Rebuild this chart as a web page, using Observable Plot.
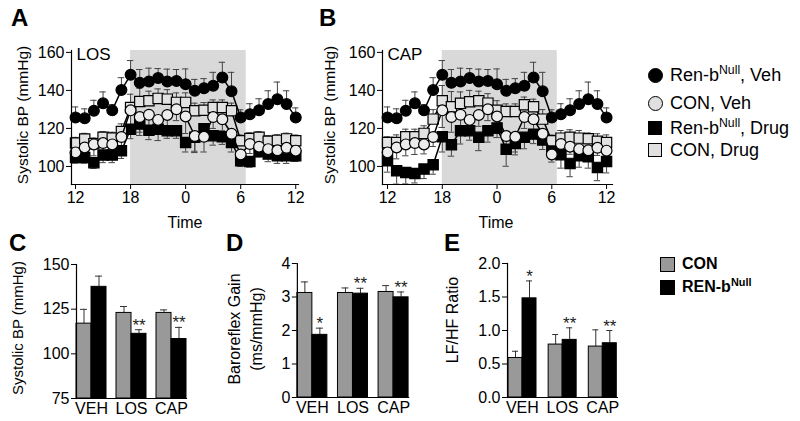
<!DOCTYPE html>
<html><head><meta charset="utf-8">
<script src="https://cdn.jsdelivr.net/npm/d3@7"></script>
<script src="https://cdn.jsdelivr.net/npm/@observablehq/plot@0.6"></script>
<style>
body{margin:0;background:#fff;}
#root{position:relative;width:800px;height:421px;overflow:hidden;background:#fff;font-family:"Liberation Sans",Arial,Helvetica,sans-serif;color:#000;}
.abs{position:absolute;line-height:1;white-space:nowrap;}
.letter{font-weight:bold;font-size:24px;}
.ytitle{transform:translate(-50%,-50%) rotate(-90deg);font-size:15.5px;text-align:center;}
.time{font-size:16px;transform:translateX(-50%);}
.leg{font-size:18px;}
.leg sup,.leg2 sup{font-size:0.68em;vertical-align:0.55em;line-height:0;}
.leg2{font-size:16px;font-weight:bold;}
.mk{position:absolute;box-sizing:border-box;border:1.2px solid #000;}
.plot{position:absolute;}
.plot svg{overflow:visible;}
</style></head>
<body><div id="root"></div>
<script>
// ---------- data ----------
const hours = [12,13,14,15,16,17,18,19,20,21,22,23,24,25,26,27,28,29,30,31,32,33,34,35,36];
const xTickValues = [12,18,24,30,36];
const xTickLabels = ["12","18","0","6","12"];
const yTickValuesBP = [100,120,140,160];
const darkPhase = [{start:18, end:30.6}];

const renVeh    = [125.8,125.3,129.3,133.2,129.5,140.2,148.2,144.0,144.7,146.5,144.7,145.0,143.3,139.8,141.2,142.5,146.8,139.5,125.8,127.5,129.6,132.8,135.4,132.8,125.8];
const renVehErr = [5.5,5,5.5,6,3,6.5,7.5,7,7,5,6.5,6,8,6,5,7,8,10,4,5.5,6,7,9,7,5];
const conVeh    = [107.4,110.0,111.6,112.3,111.6,115.5,129.5,126.0,127.2,124.5,127.1,130.1,126.3,116.0,115.6,126.0,124.8,117.2,106.3,111.8,110.4,109.1,108.5,109.8,108.3];
const conVehErr = [4,6,6,6,5,5,9,8,6,5,6,6,9,8,8,6,6,5,4,5,4,4,4,4,4];

const renLos    = [104.7,104.7,102.0,106.0,106.0,108.2,119.6,122.3,119.1,119.6,118.8,118.8,112.6,115.3,119.8,116.2,115.6,112.6,103.0,102.6,107.9,106.5,105.6,105.6,105.6];
const renLosErr = [3,3,3,4,4,4,5,6,5,6,4,4,5,8,6,5,4,5,3,3,3,4,4,4,3];
const conLos    = [112.3,114.4,112.0,115.3,115.0,118.4,131.0,134.2,134.6,135.8,135.4,133.7,133.7,129.3,129.6,131.0,131.0,129.3,113.5,114.7,115.3,113.2,113.7,114.5,113.5];
const conLosErr = [3,3,3,3,3,4,7,7,5,5,5,5,5,4,4,4,4,4,3,3,3,3,3,3,3];

const renCap    = [103.0,97.7,96.8,96.3,98.6,100.9,115.6,111.4,118.8,118.8,115.3,118.8,120.2,109.1,112.1,115.3,117.0,113.9,110.0,106.1,101.6,105.6,105.1,99.5,102.6];
const renCapErr = [6,7,6,5,5,5,8,6,7,5,7,6,5,9,6,6,5,5,6,7,7,6,6,7,6];
const conCap    = [112.6,112.6,115.6,115.6,117.4,124.9,134.6,131.4,133.2,134.0,134.6,133.3,129.6,128.9,128.9,132.5,131.4,124.9,113.5,114.9,115.3,114.9,114.6,113.2,112.6];
const conCapErr = [3,4,4,4,4,5,8,8,6,6,5,5,5,4,4,4,4,5,3,4,4,4,3,4,4];

const groups = ["VEH","LOS","CAP"];
const seriesNames = ["CON","REN-bNull"];
const sbpCon = [116.9,122.9,122.9], sbpConErr = [8.0,3.6,1.7];
const sbpRen = [137.5,111.2,108.3], sbpRenErr = [6.0,2.3,6.5];
const sbpStars = ["","**","**"];
const brsCon = [3.12,3.12,3.15], brsConErr = [0.33,0.15,0.19];
const brsRen = [1.87,3.10,2.99], brsRenErr = [0.20,0.16,0.16];
const brsStars = ["*","**","**"];
const lfhfCon = [0.59,0.79,0.76], lfhfConErr = [0.10,0.15,0.25];
const lfhfRen = [1.48,0.86,0.81], lfhfRenErr = [0.26,0.18,0.19];
const lfhfStars = ["*","**","**"];

// ---------- helpers ----------
const FONT = '"Liberation Sans", Arial, Helvetica, sans-serif';
const root = document.getElementById("root");
function place(el, left, top){ const d=document.createElement("div"); d.className="plot"; d.style.left=left+"px"; d.style.top=top+"px"; d.appendChild(el); root.appendChild(d); }
function html(cls, left, top, inner, extra){ const d=document.createElement("div"); d.className="abs "+cls; d.style.left=left+"px"; d.style.top=top+"px"; d.innerHTML=inner; if(extra) Object.assign(d.style, extra); root.appendChild(d); return d; }

const tsRows = (vals, errs, dir) => hours.map((h,i)=>({hour:h, value:vals[i], err:errs[i], dir}));

function tsPanel({renDrug, renDrugErr, conDrug, conDrugErr, label, width, height, ml, mr, xDomain}) {
  const S = [
    {rows: tsRows(renDrug, renDrugErr, -1), symbol:"square", fill:"#000", r:5.8},
    {rows: tsRows(conDrug, conDrugErr, 1), symbol:"square", fill:"#e2e2e2", r:5.8},
    {rows: tsRows(conVeh, conVehErr, -1), symbol:"circle", fill:"#ececec", r:5.4},
    {rows: tsRows(renVeh, renVehErr, 1), symbol:"circle", fill:"#000", r:5.4}
  ];
  const marks = [Plot.rect(darkPhase, {x1:"start", x2:"end", fill:"#d9d9d9"})];
  for (const s of S) {
    marks.push(Plot.ruleX(s.rows, {x:"hour", y1:"value", y2:d=>d.value+d.dir*d.err, stroke:"#444", strokeWidth:1}));
    marks.push(Plot.ruleY(s.rows, {y:d=>d.value+d.dir*d.err, x1:d=>d.hour-0.35, x2:d=>d.hour+0.35, stroke:"#444", strokeWidth:1}));
  }
  for (const s of S) {
    marks.push(Plot.line(s.rows, {x:"hour", y:"value", stroke:"#000", strokeWidth:1.5}));
    marks.push(Plot.dot(s.rows, {x:"hour", y:"value", symbol:s.symbol, r:s.r, fill:s.fill, stroke:"#000", strokeWidth:1.2}));
  }
  marks.push(Plot.text([label], {text:d=>d, frameAnchor:"top-left", dx:5, dy:-3, lineAnchor:"top", fontSize:17, textAnchor:"start"}));
  marks.push(Plot.axisY({ticks:yTickValuesBP, tickSize:5, tickPadding:2, label:null, fontSize:16}));
  marks.push(Plot.axisX({ticks:xTickValues, tickFormat:(d)=>xTickLabels[xTickValues.indexOf(d)], tickSize:5, tickPadding:2, label:null, fontSize:16}));
  marks.push(Plot.frame({anchor:"left", stroke:"#000", strokeWidth:1.2}));
  marks.push(Plot.frame({anchor:"bottom", stroke:"#000", strokeWidth:1.2}));
  return Plot.plot({
    width, height, marginLeft:ml, marginRight:mr, marginTop:50, marginBottom:height-184,
    style:{fontFamily:FONT, fontSize:"16px", color:"#000", background:"transparent"},
    x:{domain:xDomain}, y:{domain:[90.5,161]},
    marks
  });
}

function barRows(conV, conE, renV, renE, stars){
  const out=[];
  groups.forEach((g,i)=>{
    out.push({group:g, series:seriesNames[0], value:conV[i], err:conE[i], star:""});
    out.push({group:g, series:seriesNames[1], value:renV[i], err:renE[i], star:stars[i]});
  });
  return out;
}

function barPanel({data, yDomain, yTicks, tickFormat, width, height, ml, mr, mt, mb, pi, po, align}) {
  return Plot.plot({
    width, height, marginLeft:ml, marginRight:mr, marginTop:mt, marginBottom:mb,
    facet:{marginTop:0, marginBottom:0, marginLeft:0, marginRight:0},
    style:{fontFamily:FONT, fontSize:"16px", color:"#000", background:"transparent"},
    x:{domain:seriesNames, padding:0, axis:null},
    fx:{domain:groups, paddingInner:pi, paddingOuter:po, align, round:false, label:null, axis:null},
    y:{domain:yDomain},
    color:{domain:seriesNames, range:["#999999","#000000"]},
    marks:[
      Plot.ruleX(data, {fx:"group", x:"series", y1:"value", y2:d=>d.value+d.err, stroke:"#333", strokeWidth:1}),
      Plot.tickY(data, {fx:"group", x:"series", y:d=>d.value+d.err, insetLeft:4, insetRight:4, stroke:"#333", strokeWidth:1}),
      Plot.barY(data, {fx:"group", x:"series", y1:yDomain[0], y2:"value", fill:"series", stroke:"#000", strokeWidth:1}),
      Plot.text(data, {fx:"group", x:"series", y:d=>d.value+d.err, text:"star", lineAnchor:"bottom", dy:1, fontSize:17, fill:"#222"}),
      Plot.axisY({ticks:yTicks, tickFormat, tickSize:5, tickPadding:2, label:null, fontSize:16}),
      Plot.axisFx({anchor:"bottom", tickSize:0, tickPadding:4, label:null, fontSize:16}),
      Plot.frame({anchor:"left", facet:"super", stroke:"#000", strokeWidth:1.2}),
      Plot.frame({anchor:"bottom", facet:"super", stroke:"#000", strokeWidth:1.2})
    ]
  });
}

// ---------- panels A & B ----------
place(tsPanel({renDrug:renLos, renDrugErr:renLosErr, conDrug:conLos, conDrugErr:conLosErr, label:"LOS", width:310, height:215, ml:71, mr:12, xDomain:[11.56,36.3]}), 0, 0);
place(tsPanel({renDrug:renCap, renDrugErr:renCapErr, conDrug:conCap, conDrugErr:conCapErr, label:"CAP", width:310, height:215, ml:72, mr:8, xDomain:[11.45,36.65]}), 310, 0);

// ---------- panels C, D, E ----------
place(barPanel({data:barRows(sbpCon,sbpConErr,sbpRen,sbpRenErr,sbpStars), yDomain:[75,150], yTicks:[75,100,125,150], tickFormat:d3.format("d"), width:200, height:181, ml:70, mr:14, mt:24, mb:23, pi:0.25, po:0.075, align:1}), 0, 240);
place(barPanel({data:barRows(brsCon,brsConErr,brsRen,brsRenErr,brsStars), yDomain:[0,4], yTicks:[0,1,2,3,4], tickFormat:d3.format("d"), width:225, height:181, ml:92, mr:12, mt:23, mb:24, pi:0.26, po:0.12, align:0.5}), 200, 240);
place(barPanel({data:barRows(lfhfCon,lfhfConErr,lfhfRen,lfhfRenErr,lfhfStars), yDomain:[0,2], yTicks:[0,0.5,1,1.5,2], tickFormat:d3.format(".1f"), width:205, height:181, ml:83, mr:4, mt:23, mb:24, pi:0.26, po:0.10, align:0.5}), 420, 240);

// ---------- text overlays ----------
html("letter", 11, 6, "A");
html("letter", 319, 6, "B");
html("letter", 9, 231, "C");
html("letter", 226, 231, "D");
html("letter", 444, 231, "E");
html("ytitle", 22.5, 115, "Systolic BP (mmHg)");
html("ytitle", 329.5, 115, "Systolic BP (mmHg)");
html("ytitle", 17, 328, "Systolic BP (mmHg)", {fontSize:"15px"});
html("ytitle", 246, 329, "Baroreflex Gain<br>(ms/mmHg)", {fontSize:"16px", lineHeight:"22px"});
html("ytitle", 452.5, 320, "LF/HF Ratio", {fontSize:"16px"});
html("time", 185, 215, "Time");
html("time", 496, 215, "Time");

// legend top right
const legendLabels = ["Ren-b<sup>Null</sup>, Veh","CON, Veh","Ren-b<sup>Null</sup>, Drug","CON, Drug"];
const legendY = [75,103,128,150];
const legendMk = [
  {shape:"circle", fill:"#000"},{shape:"circle", fill:"#e0e0e0"},
  {shape:"square", fill:"#000"},{shape:"square", fill:"#e0e0e0"}];
legendLabels.forEach((t,i)=>{
  const m=document.createElement("div"); m.className="mk";
  const sz = legendMk[i].shape==="circle"?15:14;
  Object.assign(m.style,{left:(655-sz/2)+"px", top:(legendY[i]-sz/2)+"px", width:sz+"px", height:sz+"px", background:legendMk[i].fill, borderRadius:legendMk[i].shape==="circle"?"50%":"0"});
  root.appendChild(m);
  html("leg", 670, legendY[i]-8.8, t);
});
// legend bottom right
const legend2Labels = ["CON","REN-b<sup>Null</sup>"];
const legend2Fill = ["#999999","#000000"];
const legend2Y = [264,287];
legend2Labels.forEach((t,i)=>{
  const m=document.createElement("div"); m.className="mk";
  Object.assign(m.style,{left:"660px", top:(legend2Y[i]-7.5)+"px", width:"15px", height:"15px", background:legend2Fill[i]});
  root.appendChild(m);
  html("leg2", 682, legend2Y[i]-7.8, t);
});
</script></body></html>
